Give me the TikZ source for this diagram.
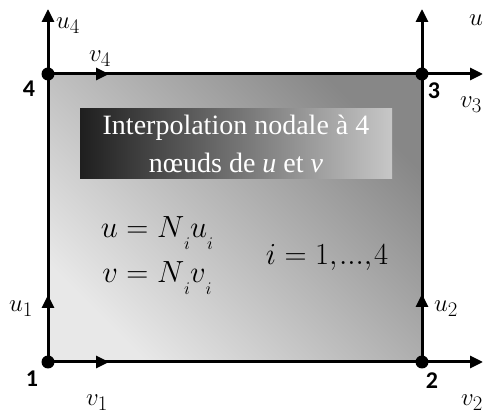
\documentclass[tikz,border=0pt]{standalone}
\usepackage{fontspec}
\usepackage{amsmath}
\usepackage{graphicx}
\usetikzlibrary{arrows.meta}
\newfontfamily\titlefont{Liberation Serif}
\newfontfamily\numfont{Carlito}
\newcommand{\sbi}{\raisebox{-0.42em}{\fontsize{14}{14}\selectfont$i$}}
\newcommand{\eqbox}[1]{\scalebox{1.23}{\fontsize{24.88}{25}\selectfont #1}}
\tikzset{
  dot/.style={circle,fill=black,inner sep=0pt,minimum size=13pt},
  vec/.style={line width=3pt,-{Triangle[length=13pt,width=12pt]}},
  lbl/.style={inner sep=0pt,font=\fontsize{24.88}{25}\selectfont},
  num/.style={inner sep=0pt,font=\numfont\bfseries\fontsize{24}{24}\selectfont},
  eq/.style={inner sep=0pt},
  ttl/.style={inner sep=0pt,text=white,font=\titlefont\fontsize{28}{28}\selectfont}
}
\begin{document}
\begin{tikzpicture}[x=1pt,y=-1pt]
\useasboundingbox (0,0) rectangle (483,414);
\coordinate (c1) at (48,362);
\coordinate (c2) at (422,362);
\coordinate (c3) at (422,74);
\coordinate (c4) at (48,74);
% shaded element
\shade[top color=black!47,bottom color=black!9,shading angle=-45] (c1) rectangle (c3);
\draw[line width=3pt] (c1) rectangle (c3);
% title box
\shade[left color=black!88,right color=black!22] (80,109) rectangle (392,179);
\node[ttl] (t1) at (236,128) {Interpolation nodale à 4};
\node[ttl] (t2) at (236,163) {nœuds de \textit{u} et \textit{v}};
% equations
\node[eq] (e1) at (157,233) {\eqbox{$u = N\sbi u\sbi$}};
\node[eq] (e2) at (157,278) {\eqbox{$v = N\sbi v\sbi$}};
\node[eq] (e3) at (327,257) {\eqbox{$i = 1{,}\mkern1mu{.}{.}{.}{,}\mkern1mu4$}};
% arrow end points
\coordinate (u1e) at (48,295);
\coordinate (v1e) at (109,362);
\coordinate (u2e) at (422,294);
\coordinate (v2e) at (483,362);
\coordinate (u3e) at (422,9);
\coordinate (v3e) at (483,74);
\coordinate (u4e) at (48,9);
\coordinate (v4e) at (109,74);
\draw[vec] (c1) -- (u1e);
\draw[vec] (c1) -- (v1e);
\draw[vec] (c2) -- (u2e);
\draw[vec] (c2) -- (v2e);
\draw[vec] (c3) -- (u3e);
\draw[vec] (c3) -- (v3e);
\draw[vec] (c4) -- (u4e);
\draw[vec] (c4) -- (v4e);
% nodes
\node[dot] (n1) at (c1) {};
\node[dot] (n2) at (c2) {};
\node[dot] (n3) at (c3) {};
\node[dot] (n4) at (c4) {};
\node[num] (l1) at (32,379) {1};
\node[num] (l2) at (432,381) {2};
\node[num] (l3) at (434,91) {3};
\node[num] (l4) at (29,89) {4};
% labels
\node[lbl] (lu1) at (21,309) {$u_1$};
\node[lbl] (lu2) at (446,309) {$u_2$};
\node[lbl] (lv1) at (97,403) {$v_1$};
\node[lbl,anchor=west] (lv2) at (461,403) {$v_2$};
\node[lbl,anchor=west] (lu3) at (469,20) {$u$};
\node[lbl,anchor=west] (lv3) at (460,105) {$v_3$};
\node[lbl] (lu4) at (68,26) {$u_4$};
\node[lbl] (lv4) at (100,59) {$v_4$};
\end{tikzpicture}
\end{document}
